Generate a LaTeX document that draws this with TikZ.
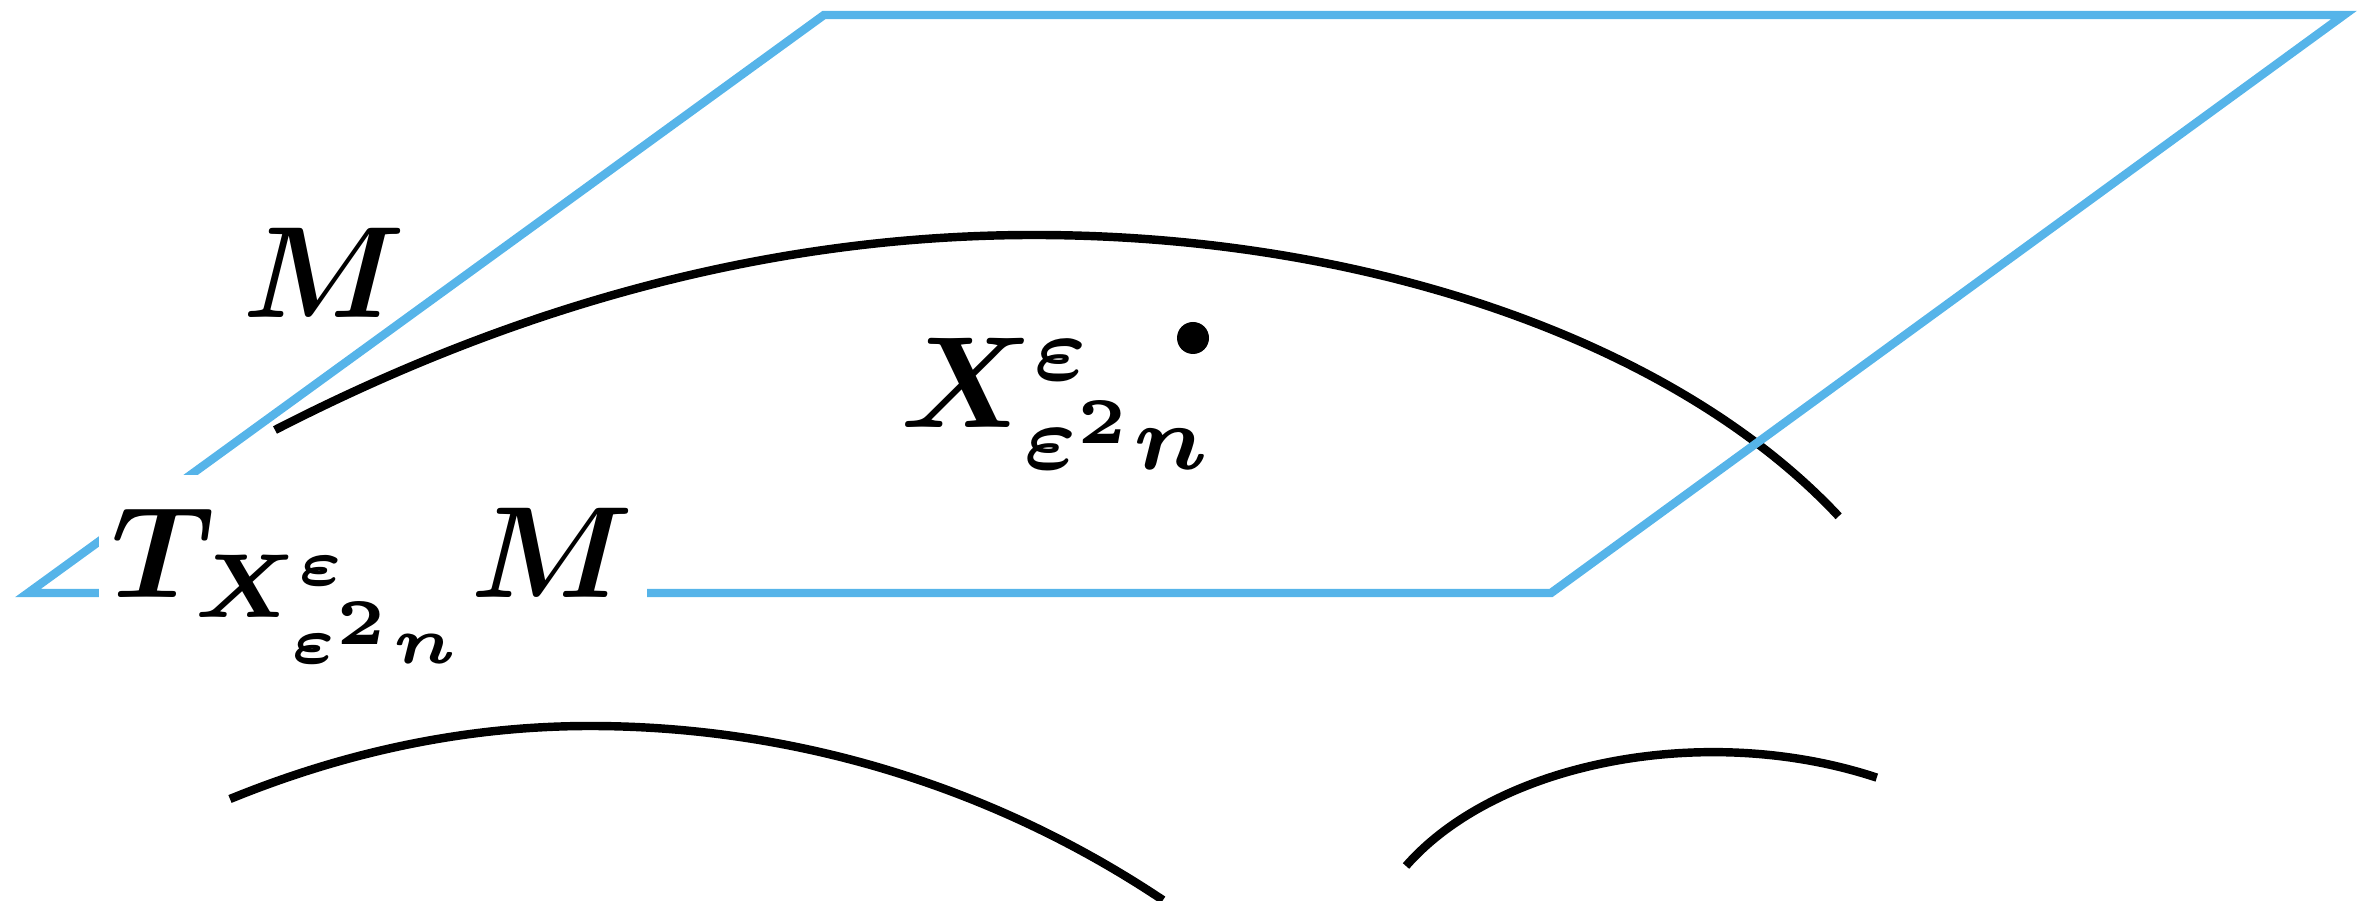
\documentclass[tikz,border=0pt]{standalone}
\usepackage{amsmath}
\definecolor{skyblue}{RGB}{86,180,233}

\begin{document}
\begin{tikzpicture}[x=1cm,y=1cm,
    plane/.style={draw=skyblue, line width=2.4pt},
    curve/.style={draw=black, line width=2.4pt},
    lbl/.style={inner sep=0pt, scale=3.7, font=\boldmath}]
    \useasboundingbox (0,0) rectangle (23.73,9.01);

    \draw[curve] (2.75,4.71) .. controls (5.28,6.01) and (7.81,6.66) .. (10.34,6.66)
      arc[start angle=90, end angle=29, x radius=9.2, y radius=5.46];
    \draw[curve] (2.30,1.02) .. controls (3.50,1.51) and (4.70,1.75) .. (5.90,1.75)
      arc[start angle=90, end angle=56.2, radius=10.3];
    \draw[curve] (14.06,0.35) arc[start angle=151.3, end angle=62.1, x radius=3.5, y radius=2.19];

    \draw[plane] (0.28,3.08) -- (8.24,8.86) -- (23.44,8.86) -- (15.51,3.08) -- cycle;

    \node[lbl, anchor=base] (m) at (3.24,5.83) {$M$};
    \node[lbl, anchor=base west] (x) at (8.98,4.73) {$X^{\varepsilon}_{\varepsilon^2 n}$};
    \node[circle, fill=black, inner sep=0pt, minimum size=0.32cm] (pt) at (11.93,5.63) {};
    \node[lbl, fill=white, inner xsep=0.035cm, inner ysep=0.09cm, anchor=base west] (tm) at (0.96,3.03)
      {$T_{X^{\varepsilon}_{\varepsilon^2 n}} M$};
\end{tikzpicture}
\end{document}
